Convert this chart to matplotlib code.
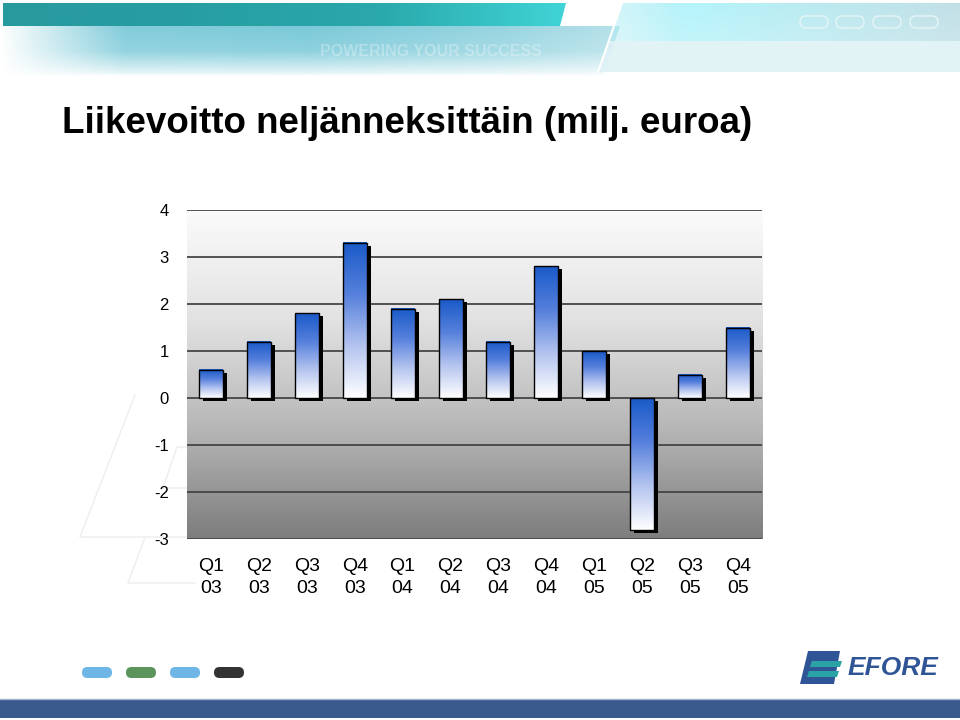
import numpy as np
import matplotlib
matplotlib.use("Agg")
import matplotlib.pyplot as plt
from matplotlib.colors import LinearSegmentedColormap
from matplotlib.patches import Rectangle, Polygon, FancyBboxPatch
from matplotlib.transforms import offset_copy

plt.rcParams["font.family"] = ["Liberation Sans", "DejaVu Sans"]

# data
quarters = ["Q1", "Q2", "Q3", "Q4", "Q1", "Q2", "Q3", "Q4", "Q1", "Q2", "Q3", "Q4"]
years = ["03", "03", "03", "03", "04", "04", "04", "04", "05", "05", "05", "05"]
operating_profit = [0.6, 1.2, 1.8, 3.3, 1.9, 2.1, 1.2, 2.8, 1.0, -2.8, 0.5, 1.5]
y_ticks = [-3, -2, -1, 0, 1, 2, 3, 4]
title = "Liikevoitto neljänneksittäin (milj. euroa)"

fig = plt.figure(figsize=(9.6, 7.2), dpi=100)

# slide decoration in pixel coords
bg = fig.add_axes([0, 0, 1, 1], zorder=0)
bg.set_xlim(0, 960)
bg.set_ylim(720, 0)
bg.axis("off")

# cyan glow under the header bar
hx = np.linspace(0, 1, 300)
hy = np.linspace(0, 1, 60)
alpha_x = np.interp(hx, [0, 0.05, 0.2, 0.5, 0.8, 1], [0, 0.25, 0.95, 1.0, 0.8, 0.55])
alpha_y = np.interp(hy, [0, 0.5, 0.85, 1], [1, 0.85, 0.35, 0.1])
glow = np.zeros((60, 300, 4))
glow[..., 0] = 0.48
glow[..., 1] = 0.79
glow[..., 2] = 0.85
glow[..., 3] = np.outer(alpha_y, alpha_x)
im = bg.imshow(glow, extent=(0, 620, 76, 26), aspect="auto", zorder=1)
im.set_clip_path(Polygon([(0, 26), (620, 26), (603, 76), (0, 76)], closed=True,
                         transform=bg.transData))

# right header block: upper cyan band, lower pale band
up = np.zeros((40, 200, 4))
up[..., 0] = np.interp(np.linspace(0, 1, 200), [0, 0.25, 1], [0.70, 0.66, 0.70])
up[..., 1] = np.interp(np.linspace(0, 1, 200), [0, 0.25, 1], [0.93, 0.95, 0.85])
up[..., 2] = np.interp(np.linspace(0, 1, 200), [0, 0.25, 1], [0.96, 0.98, 0.88])
up[..., 3] = np.outer(np.interp(np.linspace(0, 1, 40), [0, 1], [0.9, 0.75]),
                      np.interp(np.linspace(0, 1, 200), [0, 0.2, 1], [0.6, 0.95, 0.9]))
im = bg.imshow(up, extent=(605, 960, 41, 3), aspect="auto", zorder=1)
im.set_clip_path(Polygon([(622, 3), (960, 3), (960, 41), (609, 41)], closed=True,
                         transform=bg.transData))
bg.add_patch(Polygon([(609, 41), (960, 41), (960, 72), (598, 72)], closed=True,
                     fc="#dff2f6", ec="none", alpha=0.9, zorder=1))

# teal header bar
teal = LinearSegmentedColormap.from_list("teal", ["#279a9e", "#279ea2", "#2aa8ab", "#40d4d6"])
im = bg.imshow(np.linspace(0, 1, 256).reshape(1, -1), cmap=teal,
               extent=(0, 566, 26, 3), aspect="auto", zorder=2)
im.set_clip_path(Polygon([(3, 3), (566, 3), (560, 26), (3, 26)], closed=True,
                         transform=bg.transData))
bg.plot([622, 598], [3, 72], color="white", lw=1.5, zorder=3)
bg.plot([0, 680], [75, 75], color="white", lw=1.2, alpha=0.7, zorder=3)

bg.text(431, 52, "POWERING YOUR SUCCESS", color="white", alpha=0.3, fontsize=11.5,
        fontweight="bold", ha="center", va="center", zorder=3)

for px in [800, 836, 873, 910]:
    bg.add_patch(FancyBboxPatch((px, 16), 28, 12, boxstyle="round,pad=0,rounding_size=6",
                                fc="none", ec="#e4f4f6", lw=1.1, zorder=3))

# faint watermark lines
wm = dict(color="#efefef", lw=1.1, zorder=1)
bg.plot([135, 80, 187], [395, 537, 537], **wm)
bg.plot([187, 177, 163, 187], [447, 447, 488, 488], **wm)
bg.plot([145, 128, 195], [537, 583, 583], **wm)

# footer
for px, c in zip([82, 126, 170, 214], ["#6db6e6", "#5b955b", "#6db6e6", "#333333"]):
    bg.add_patch(FancyBboxPatch((px, 667), 30, 11, boxstyle="round,pad=0,rounding_size=5.5",
                                fc=c, ec="none", zorder=3))
bg.add_patch(Rectangle((0, 699), 960, 19, fc="#3a5a8e", ec="none", zorder=3))
bg.plot([0, 960], [698.5, 698.5], color="#9fb3cf", lw=1, zorder=3)

bg.add_patch(Polygon([(808, 651), (840, 651), (834, 684), (800, 684)], closed=True,
                     fc="#2f5596", ec="none", zorder=3))
bg.add_patch(Polygon([(812, 661), (842, 661), (840, 667), (810, 667)], closed=True,
                     fc="#2aa3a6", ec="none", zorder=4))
bg.add_patch(Polygon([(809, 671), (839, 671), (837, 677), (807, 677)], closed=True,
                     fc="#2aa3a6", ec="none", zorder=4))
bg.text(848, 668, "EFORE", color="#2f5596", fontsize=19, fontweight="bold",
        fontstyle="italic", ha="left", va="center", zorder=3)

fig.text(62 / 960, 1 - 133 / 720, title, fontsize=26.5, fontweight="bold",
         ha="left", va="baseline", color="black", zorder=5)

# chart
ax = fig.add_axes([187 / 960, 181 / 720, 575 / 960, 329 / 720], zorder=2)
x = np.arange(len(operating_profit))

plot_bg = LinearSegmentedColormap.from_list("plotbg", ["#fbfbfb", "#e2e2e2", "#b6b6b6", "#7d7d7d"])
ax.imshow(np.linspace(0, 1, 256).reshape(-1, 1), cmap=plot_bg,
          extent=(-0.5, 11.5, -3, 4), aspect="auto", zorder=0)

ax.set_yticks(y_ticks)
ax.yaxis.grid(True, color="#454545", lw=1.3, zorder=1)
ax.set_axisbelow(True)

blue = LinearSegmentedColormap.from_list("bar", ["#1a5ac8", "#5680dc", "#b4c4ef", "#ffffff"])
shadow_tr = offset_copy(ax.transData, fig=fig, x=4, y=-3, units="dots")
bars = ax.bar(x, operating_profit, width=0.5, color="none", edgecolor="black",
              linewidth=1, zorder=4)
for bar in bars:
    x0, y0 = bar.get_x(), bar.get_y()
    w, h = bar.get_width(), bar.get_height()
    ax.add_patch(Rectangle((x0, y0), w, h, transform=shadow_tr, fc="black",
                           ec="none", zorder=2))
    ax.imshow(np.linspace(0, 1, 256).reshape(-1, 1), cmap=blue,
              extent=(x0, x0 + w, min(y0, y0 + h), max(y0, y0 + h)),
              aspect="auto", zorder=3)

ax.set_xlim(-0.5, 11.5)
ax.set_ylim(-3, 4)
ax.set_xticks(x)
ax.set_xticklabels([f"{q}\n{y}" for q, y in zip(quarters, years)], fontsize=14,
                   linespacing=1.35)
ax.set_yticklabels([str(t) for t in y_ticks], fontsize=12)
ax.tick_params(axis="y", length=0, pad=13)
ax.tick_params(axis="x", length=0, pad=14)
for s in ax.spines.values():
    s.set_visible(False)

fig.savefig("out.png", dpi=100)
